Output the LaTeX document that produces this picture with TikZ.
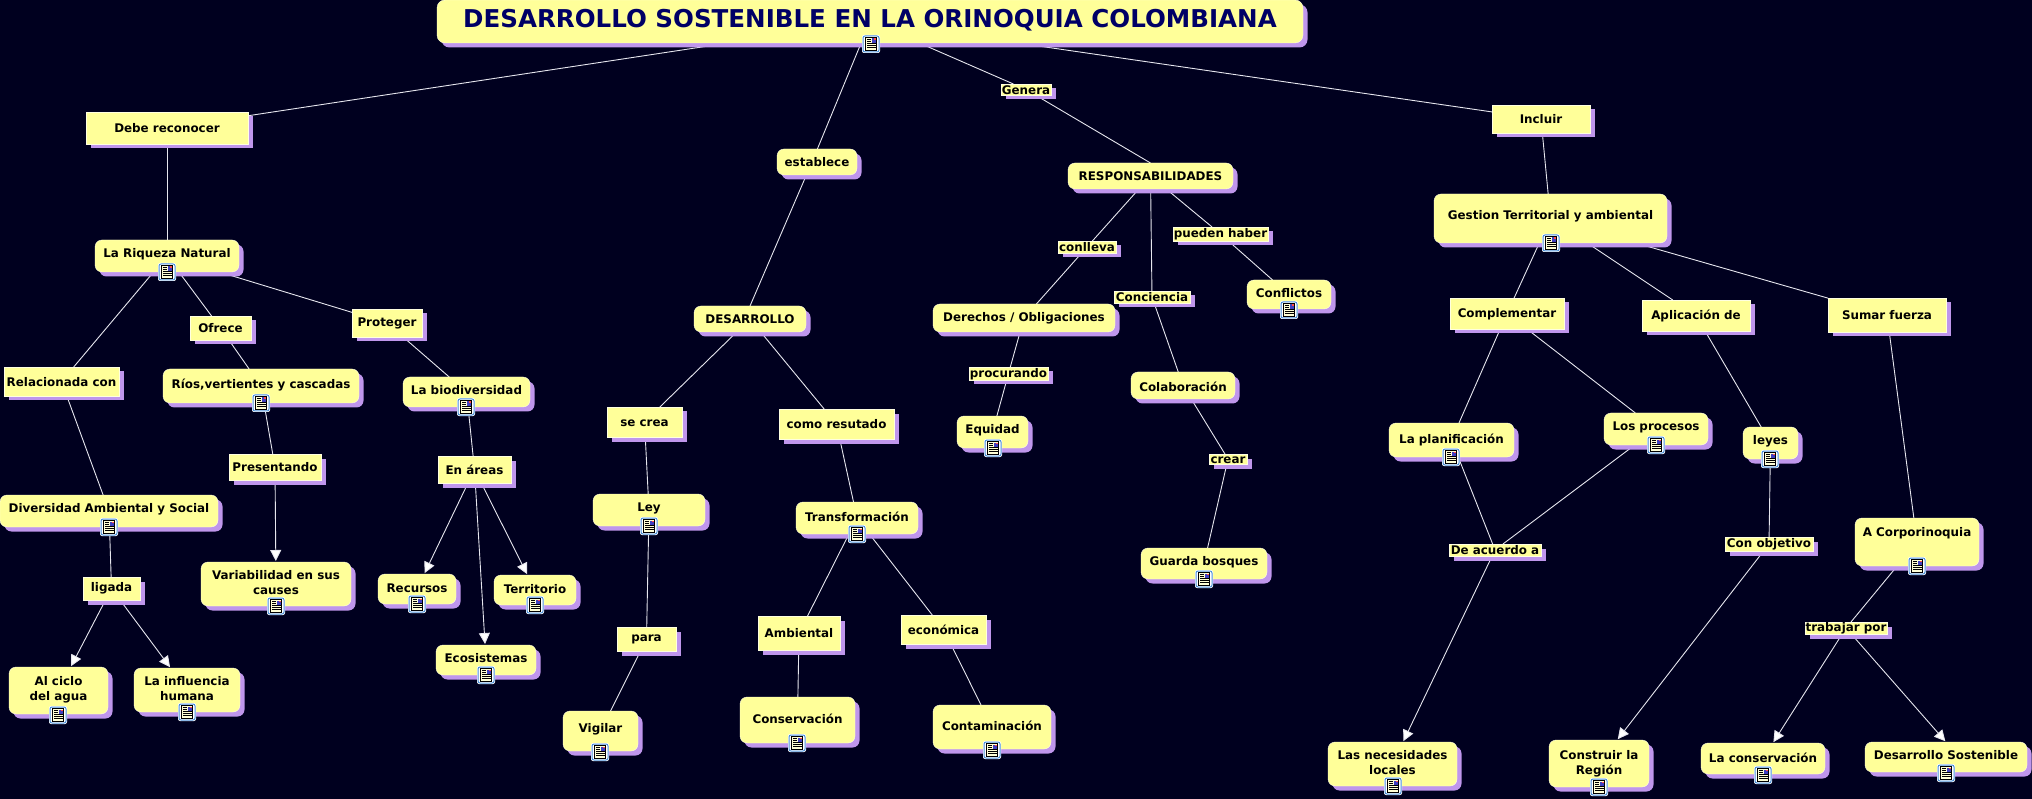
\documentclass[tikz,border=0pt]{standalone}
\usepackage{fontspec}
\setmainfont{DejaVu Sans}
\usetikzlibrary{shadows,arrows.meta,backgrounds}
\definecolor{bgc}{HTML}{00001F}
\definecolor{yel}{HTML}{FFFF99}
\definecolor{shd}{HTML}{BF96EC}
\definecolor{edgec}{HTML}{FFFFE0}
\definecolor{navy}{HTML}{000066}
\definecolor{linec}{HTML}{E6E6EE}
\definecolor{iconb}{HTML}{4A90D9}
\tikzset{
  box/.style={rectangle,fill=yel,draw=edgec,line width=.4pt,inner sep=0pt,outer sep=0pt,
    general shadow={fill=shd,draw=none,shadow xshift=4.5pt,shadow yshift=-4.5pt},
    text=black,font=\fontsize{11.9}{14.7}\selectfont\bfseries},
  concept/.style={box,rounded corners=7pt},
  linkbox/.style={box},
  headbox/.style={box,rounded corners=8pt,text=navy,font=\fontsize{24.55}{30}\selectfont\bfseries},
  conn/.style={draw=linec,line width=.9pt},
  arr/.style={conn,shorten >=1pt,-{Triangle[width=11pt,length=11pt,fill=white]}}
}
\newcommand\cn[8]{%
  \pgfmathsetmacro\bw{#5-#3}\pgfmathsetmacro\bh{#6-#4}%
  \pgfmathsetmacro\bx{(#3+#5)/2}\pgfmathsetmacro\by{(#4+#6)/2}%
  \pgfmathsetmacro\bd{\by-#7-0.7}%
  \node[#1,minimum width=\bw pt,minimum height=\bh pt] (#2) at (\bx,\by)
    {\raisebox{\bd pt}[0pt][0pt]{\def\arraystretch{1.04}\begin{tabular}[t]{@{}c@{}}#8\end{tabular}}};%
}
\newcommand\docicon[2]{%
  \begin{scope}[shift={(#1,#2)}]
    \fill[white,rounded corners=2pt] (-9,-9) rectangle (9,9);
    \draw[draw=iconb,fill=white,rounded corners=2pt,line width=1pt] (-8,-8) rectangle (8,8);
    \fill[fill=yel!40!white,draw=black,line width=.7pt] (-5.5,-6.5) rectangle (5.5,6.5);
    \fill[blue!50!gray] (0.5,-5.5) rectangle (4.5,-1);
    \fill[red!70!white] (2.8,-5.5) rectangle (4.5,-3.8);
    \draw[black,line width=.7pt] (-4,-4.5) -- (-.5,-4.5) (-4,-2.5) -- (-.5,-2.5) (-4,-.5) -- (4.5,-.5) (-4,1.5) -- (4.5,1.5) (-4,3.5) -- (4.5,3.5);
  \end{scope}%
}
\begin{document}
\begin{tikzpicture}[x=1pt,y=-1pt]
\useasboundingbox (0,0) rectangle (2032,799);
\begin{pgfonlayer}{background}
  \fill[bgc] (0,0) rectangle (2032,799);
\end{pgfonlayer}
% title
\cn{headbox}{title}{437}{0}{1303}{43}{27}{DESARROLLO SOSTENIBLE EN LA ORINOQUIA COLOMBIANA}
% left branch
\cn{linkbox}{debe}{86}{112}{248}{144}{132}{Debe reconocer}
\cn{concept}{riqueza}{95}{240}{239}{272}{257}{La Riqueza Natural}
\cn{linkbox}{ofrece}{190}{316}{251}{340}{332}{Ofrece}
\cn{linkbox}{proteger}{352}{309}{422}{337}{326}{Proteger}
\cn{linkbox}{relac}{4}{367}{119}{396}{386}{Relacionada con}
\cn{concept}{rios}{163}{369}{359}{403}{388}{Ríos,vertientes y cascadas}
\cn{concept}{biodiv}{403}{377}{530}{407}{394}{La biodiversidad}
\cn{linkbox}{present}{229}{454}{321}{480}{471}{Presentando}
\cn{linkbox}{areas}{438}{456}{511}{483}{474}{En áreas}
\cn{concept}{divers}{0}{495}{218}{527}{512}{Diversidad Ambiental y Social}
\cn{linkbox}{ligada}{83}{577}{140}{600}{591}{ligada}
\cn{concept}{variab}{201}{562}{351}{606}{579}{Variabilidad en sus\\causes}
\cn{concept}{ciclo}{9}{667}{108}{714}{685}{Al ciclo\\del agua}
\cn{concept}{influ}{134}{668}{240}{712}{685}{La influencia\\humana}
\cn{concept}{recursos}{378}{574}{456}{604}{592}{Recursos}
\cn{concept}{territ}{494}{575}{576}{605}{593}{Territorio}
\cn{concept}{ecosis}{436}{645}{536}{675}{662}{Ecosistemas}
% centre branch
\cn{concept}{establece}{777}{149}{857}{175}{166}{establece}
\cn{concept}{desarr}{694}{306}{806}{332}{323}{DESARROLLO}
\cn{linkbox}{secrea}{607}{407}{682}{437}{426}{se crea}
\cn{linkbox}{como}{779}{409}{894}{439}{428}{como resutado}
\cn{concept}{ley}{593}{494}{705}{526}{511}{Ley}
\cn{linkbox}{para}{617}{627}{676}{651}{641}{para}
\cn{concept}{vigilar}{563}{711}{638}{751}{732}{Vigilar}
\cn{concept}{transf}{796}{502}{918}{534}{521}{Transformación}
\cn{linkbox}{ambient}{758}{616}{840}{650}{637}{Ambiental}
\cn{linkbox}{econom}{901}{615}{986}{644}{634}{económica}
\cn{concept}{conserv}{740}{697}{855}{743}{723}{Conservación}
\cn{concept}{contam}{933}{705}{1051}{749}{730}{Contaminación}
% responsabilidades
\cn{linkbox}{genera}{1001}{84}{1051}{95}{94}{Genera}
\cn{concept}{resp}{1068}{163}{1233}{189}{180}{RESPONSABILIDADES}
\cn{linkbox}{conlleva}{1058}{241}{1116}{253}{251}{conlleva}
\cn{linkbox}{pueden}{1173}{227}{1268}{241}{237}{pueden haber}
\cn{linkbox}{concien}{1114}{291}{1190}{303}{301}{Conciencia}
\cn{concept}{conflic}{1247}{280}{1331}{309}{297}{Conflictos}
\cn{concept}{derechos}{933}{304}{1115}{332}{321}{Derechos / Obligaciones}
\cn{linkbox}{procur}{969}{367}{1048}{380}{377}{procurando}
\cn{concept}{equidad}{957}{416}{1028}{448}{433}{Equidad}
\cn{concept}{colab}{1131}{372}{1235}{399}{391}{Colaboración}
\cn{linkbox}{crear}{1209}{454}{1247}{464}{463}{crear}
\cn{concept}{guarda}{1141}{548}{1267}{579}{565}{Guarda bosques}
% right branch
\cn{linkbox}{incluir}{1492}{105}{1590}{133}{123}{Incluir}
\cn{concept}{gestion}{1434}{194}{1667}{243}{219}{Gestion Territorial y ambiental}
\cn{linkbox}{complem}{1450}{298}{1564}{329}{317}{Complementar}
\cn{linkbox}{aplic}{1642}{300}{1750}{331}{319}{Aplicación de}
\cn{linkbox}{sumar}{1828}{298}{1946}{332}{319}{Sumar fuerza}
\cn{concept}{planif}{1389}{423}{1514}{457}{443}{La planificación}
\cn{concept}{procesos}{1604}{413}{1708}{445}{430}{Los procesos}
\cn{concept}{leyes}{1743}{427}{1798}{459}{444}{leyes}
\cn{linkbox}{acuerdo}{1449}{544}{1541}{556}{554}{De acuerdo a}
\cn{linkbox}{objetivo}{1725}{537}{1813}{551}{547}{Con objetivo}
\cn{concept}{corpo}{1855}{518}{1979}{566}{536}{A Corporinoquia}
\cn{linkbox}{trabajar}{1805}{622}{1887}{634}{631}{trabajar por}
\cn{concept}{necesid}{1328}{742}{1457}{786}{759}{Las necesidades\\locales}
\cn{concept}{constru}{1549}{740}{1649}{787}{759}{Construir la\\Región}
\cn{concept}{laconserv}{1701}{743}{1825}{774}{762}{La conservación}
\cn{concept}{dsost}{1865}{742}{2027}{772}{759}{Desarrollo Sostenible}
\coordinate (estpass) at (812,162);
% connectors
\begin{pgfonlayer}{background}
\draw[conn] (title) -- (debe);
\draw[conn] (title) -- (estpass);
\draw[conn] (title) -- (genera);
\draw[conn] (title) -- (incluir);
\draw[conn] (debe) -- (riqueza);
\draw[conn] (riqueza) -- (relac);
\draw[conn] (riqueza) -- (ofrece);
\draw[conn] (riqueza) -- (proteger);
\draw[conn] (relac) -- (divers);
\draw[conn] (divers) -- (ligada);
\draw[arr] (ligada) -- (ciclo);
\draw[arr] (ligada) -- (influ);
\draw[conn] (ofrece) -- (rios);
\draw[conn] (rios) -- (present);
\draw[arr] (present) -- (variab);
\draw[conn] (proteger) -- (biodiv);
\draw[conn] (biodiv) -- (areas);
\draw[arr] (areas) -- (recursos);
\draw[arr] (areas) -- (ecosis);
\draw[arr] (areas) -- (territ);
\draw[conn] (estpass) -- (desarr.north);
\draw[conn] (desarr) -- (secrea);
\draw[conn] (desarr) -- (como);
\draw[conn] (secrea) -- (ley);
\draw[conn] (ley) -- (para);
\draw[conn] (para) -- (vigilar);
\draw[conn] (como) -- (transf);
\draw[conn] (transf) -- (ambient);
\draw[conn] (transf) -- (econom);
\draw[conn] (ambient) -- (conserv);
\draw[conn] (econom) -- (contam);
\draw[conn] (genera) -- (resp.north);
\draw[conn] (resp) -- (conlleva);
\draw[conn] (resp) -- (concien);
\draw[conn] (resp) -- (pueden);
\draw[conn] (conlleva) -- (derechos);
\draw[conn] (derechos) -- (procur);
\draw[conn] (procur) -- (equidad);
\draw[conn] (concien) -- (colab);
\draw[conn] (colab) -- (crear);
\draw[conn] (crear) -- (guarda);
\draw[conn] (pueden) -- (conflic);
\draw[conn] (incluir) -- (gestion);
\draw[conn] (gestion) -- (complem);
\draw[conn] (gestion) -- (aplic);
\draw[conn] (gestion) -- (sumar);
\draw[conn] (complem) -- (planif);
\draw[conn] (complem) -- (procesos);
\draw[conn] (aplic) -- (leyes);
\draw[conn] (sumar) -- (corpo);
\draw[conn] (planif) -- (acuerdo);
\draw[conn] (procesos) -- (acuerdo);
\draw[arr] (acuerdo) -- (necesid);
\draw[conn] (leyes) -- (objetivo);
\draw[arr] (objetivo) -- (constru);
\draw[conn] (corpo) -- (trabajar);
\draw[arr] (trabajar) -- (laconserv);
\draw[arr] (trabajar) -- (dsost.north);
\end{pgfonlayer}
% document icons
\docicon{871}{44}
\docicon{167}{272}
\docicon{261}{403}
\docicon{466}{407}
\docicon{109}{527}
\docicon{276}{606}
\docicon{58}{715}
\docicon{187}{712}
\docicon{417}{604}
\docicon{535}{605}
\docicon{486}{675}
\docicon{649}{526}
\docicon{600}{752}
\docicon{857}{534}
\docicon{797}{743}
\docicon{992}{750}
\docicon{1289}{310}
\docicon{993}{448}
\docicon{1204}{579}
\docicon{1551}{243}
\docicon{1451}{457}
\docicon{1656}{445}
\docicon{1770}{459}
\docicon{1917}{566}
\docicon{1393}{786}
\docicon{1599}{787}
\docicon{1763}{775}
\docicon{1946}{773}
\end{tikzpicture}
\end{document}
